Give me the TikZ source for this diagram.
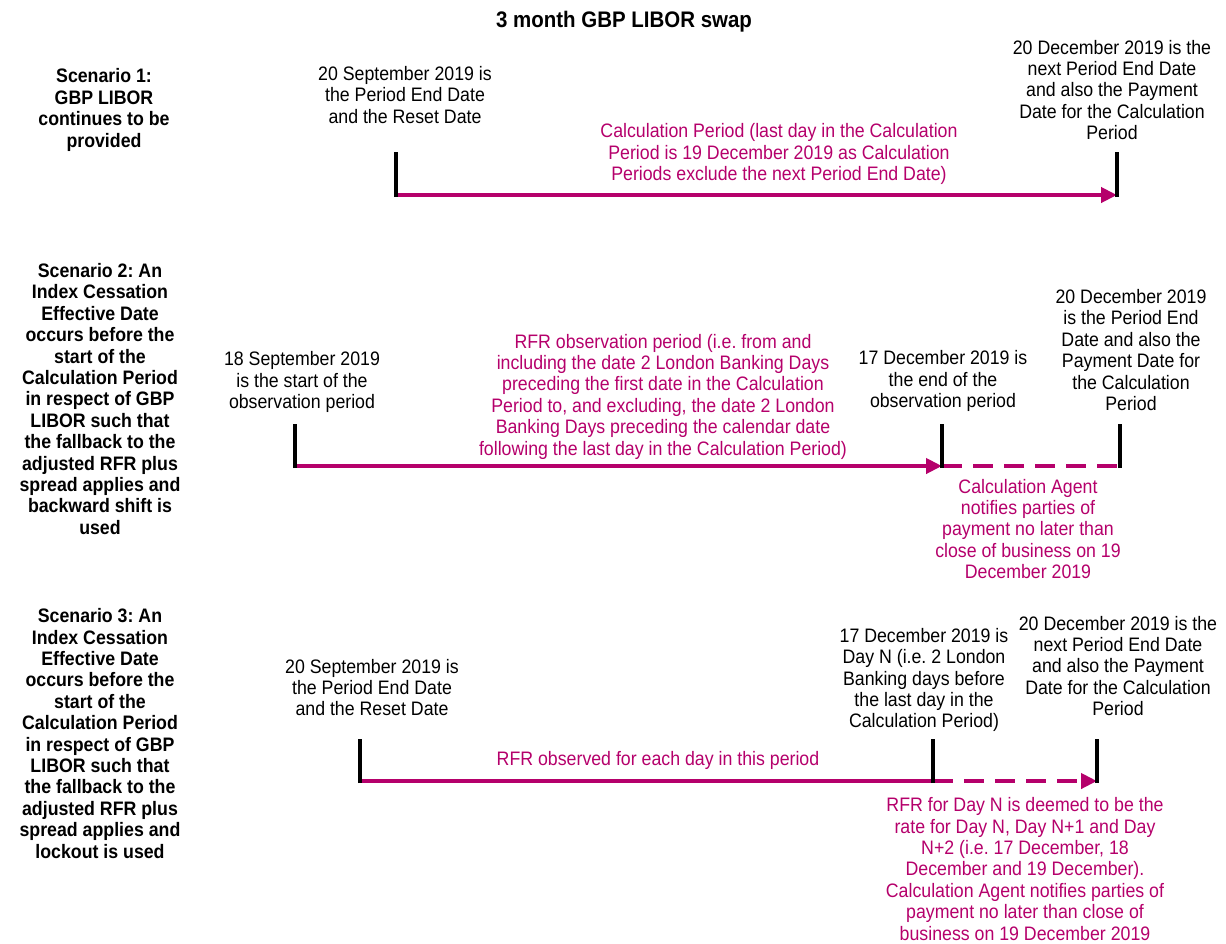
\documentclass[tikz,border=0pt]{standalone}
\usepackage{fontspec}
\setmainfont{Liberation Sans}[FakeStretch=0.91]
\usetikzlibrary{arrows.meta,positioning}
\definecolor{rfrpink}{RGB}{181,0,107}

\begin{document}
\frenchspacing
\begin{tikzpicture}[
    x=1pt,y=-1pt,
    every node/.style={inner sep=0pt,align=center},
    txt/.style={font=\fontsize{19.5}{21.4}\selectfont},
    scen/.style={font=\fontsize{19.5}{21.4}\selectfont\bfseries},
    note/.style={txt,text=rfrpink},
    datetick/.style={line width=4pt,black},
    period/.style={line width=4pt,rfrpink,-{Triangle[length=16pt,width=15pt]}},
    gap/.style={line width=4pt,rfrpink,dash pattern=on 20pt off 11pt}
]
    \useasboundingbox (0,0) rectangle (1226,943);

    \node[font=\fontsize{22.5}{26}\selectfont\bfseries] (title) at (624,22) {3 month GBP LIBOR swap};

    % scenario labels
    \node[scen] (scen1) at (104,110) {Scenario 1:\\GBP LIBOR\\continues to be\\provided};
    \node[scen] (scen2) at (100,399) {Scenario 2: An\\Index Cessation\\Effective Date\\occurs before the\\start of the\\Calculation Period\\in respect of GBP\\LIBOR such that\\the fallback to the\\adjusted RFR plus\\spread applies and\\backward shift is\\used};
    \node[scen] (scen3) at (100,733.5) {Scenario 3: An\\Index Cessation\\Effective Date\\occurs before the\\start of the\\Calculation Period\\in respect of GBP\\LIBOR such that\\the fallback to the\\adjusted RFR plus\\spread applies and\\lockout is used};

    % scenario 1
    \coordinate (s1a) at (396,195);
    \coordinate (s1b) at (1117,195);
    \node[txt] (s1startlbl) at (405,95) {20 September 2019 is\\the Period End Date\\and the Reset Date};
    \node[txt] (s1endlbl) at (1112,90) {20 December 2019 is the\\next Period End Date\\and also the Payment\\Date for the Calculation\\Period};
    \node[note] (s1calc) at (779,154) {Calculation Period (last day in the Calculation\\Period is 19 December 2019 as Calculation\\Periods exclude the next Period End Date)};
    \draw[period] (s1a) -- (s1b);
    \foreach \p in {s1a,s1b}
        \draw[datetick] (\p) ++(0,2) -- ++(0,-45);

    % scenario 2
    \coordinate (s2a) at (295,466);
    \coordinate (s2b) at (942,466);
    \coordinate (s2c) at (1120,466);
    \node[txt] (s2startlbl) at (302,382) {18 September 2019\\is the start of the\\observation period};
    \node[note] (s2obs) at (663,396.5) {RFR observation period (i.e. from and\\including the date 2 London Banking Days\\preceding the first date in the Calculation\\Period to, and excluding, the date 2 London\\Banking Days preceding the calendar date\\following the last day in the Calculation Period)};
    \node[txt] (s2obsendlbl) at (943,381) {17 December 2019 is\\the end of the\\observation period};
    \node[txt] (s2endlbl) at (1131,350) {20 December 2019\\is the Period End\\Date and also the\\Payment Date for\\the Calculation\\Period};
    \node[note] (s2agent) at (1028,529) {Calculation Agent\\notifies parties of\\payment no later than\\close of business on 19\\December 2019};
    \draw[period] (s2a) -- (s2b);
    \draw[gap] (s2b) -- (s2c);
    \foreach \p in {s2a,s2b,s2c}
        \draw[datetick] (\p) ++(0,2) -- ++(0,-44);

    % scenario 3
    \coordinate (s3a) at (360,781);
    \coordinate (s3b) at (933,781);
    \coordinate (s3c) at (1097,781);
    \node[txt] (s3startlbl) at (372,687.5) {20 September 2019 is\\the Period End Date\\and the Reset Date};
    \node[note] (s3obs) at (658,760) {RFR observed for each day in this period};
    \node[txt] (s3daynlbl) at (924,680) {17 December 2019 is\\Day N (i.e. 2 London\\Banking days before\\the last day in the\\Calculation Period)};
    \node[txt] (s3endlbl) at (1118,666) {20 December 2019 is the\\next Period End Date\\and also the Payment\\Date for the Calculation\\Period};
    \node[note] (s3lockout) at (1025,869) {RFR for Day N is deemed to be the\\rate for Day N, Day N+1 and Day\\N+2 (i.e. 17 December, 18\\December and 19 December).\\Calculation Agent notifies parties of\\payment no later than close of\\business on 19 December 2019};
    \draw[line width=4pt,rfrpink] (s3a) -- (s3b);
    \draw[gap,-{Triangle[length=16pt,width=15pt]}] (s3b) -- (s3c);
    \foreach \p in {s3a,s3b,s3c}
        \draw[datetick] (\p) ++(0,2) -- ++(0,-44);
\end{tikzpicture}
\end{document}
